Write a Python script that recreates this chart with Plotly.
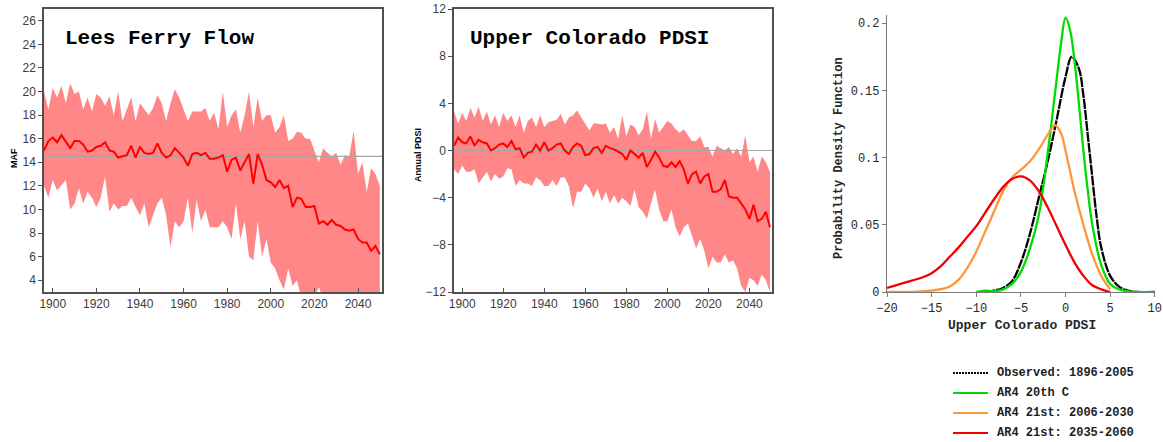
import plotly.graph_objects as go

W, H = 1163, 442

years = list(range(1896, 2051, 2))

flow_upper = [20.0, 18.5, 20.3, 19.5, 20.5, 19.0, 20.7, 19.8, 20.0, 18.5,
              19.5, 18.3, 19.8, 19.5, 18.8, 19.6, 18.0, 20.0, 17.5, 18.5,
              19.5, 17.5, 19.0, 18.5, 18.0, 18.6, 19.7, 19.0, 17.5, 19.0,
              20.2, 19.5, 18.5, 17.5, 18.3, 18.3, 18.3, 18.6, 17.5, 18.2,
              16.8, 20.0, 17.0, 18.0, 18.5, 16.5, 18.0, 20.0, 17.0, 19.5,
              17.5, 18.0, 18.0, 16.5, 17.0, 18.0, 15.8, 16.0, 16.6, 16.5,
              16.0, 16.0, 15.0, 14.0, 15.2, 14.8, 14.5, 14.8, 13.8, 14.6,
              14.5, 16.7, 13.0, 14.0, 11.5, 13.5, 13.0, 12.0]
flow_lower = [12.0, 11.0, 12.5, 11.6, 12.0, 12.5, 10.0, 10.5, 11.8, 10.5,
              11.5, 11.0, 10.2, 11.0, 12.8, 9.8, 10.5, 10.0, 10.3, 10.3,
              11.0, 10.2, 9.5, 10.5, 8.5, 9.5, 10.5, 11.0, 9.5, 6.8,
              9.0, 8.5, 9.0, 11.0, 8.0, 10.8, 9.0, 10.0, 8.5, 8.5,
              8.5, 9.0, 8.5, 7.5, 10.5, 7.5, 9.0, 6.0, 5.7, 9.0,
              6.0, 7.5, 5.5, 5.0, 4.0, 3.2, 5.0, 3.5, 4.0, 2.5,
              3.0, 2.5, 2.5, 3.4, 2.5, 2.0, 2.0, 2.0, 2.0, 2.0,
              2.0, 2.0, 2.0, 2.0, 2.0, 2.0, 2.0, 2.0]
flow_median = [15.0, 15.8, 16.1, 15.7, 16.3, 15.8, 15.2, 15.8, 15.8, 15.5,
               14.9, 15.0, 15.3, 15.4, 15.7, 15.0, 14.9, 14.4, 14.5, 14.6,
               15.4, 14.4, 15.3, 14.8, 14.7, 14.8, 15.6, 14.8, 14.4, 14.6,
               15.2, 14.8, 14.4, 13.7, 14.7, 14.8, 14.6, 14.8, 14.3, 14.3,
               14.4, 14.6, 13.2, 14.2, 14.4, 13.3, 14.0, 14.7, 12.2, 14.7,
               13.8, 12.5, 12.3, 11.9, 12.5, 11.8, 12.0, 10.2, 11.0, 10.9,
               10.2, 10.2, 10.3, 8.8, 9.0, 8.7, 9.1, 8.7, 8.6, 8.3,
               8.2, 8.3, 7.5, 7.2, 7.2, 6.5, 6.9, 6.2]
flow_ref = 14.5

pdsi_upper = [3.3, 2.3, 3.2, 2.5, 3.6, 2.8, 3.7, 2.5, 3.3, 2.2,
              3.0, 2.0, 3.2, 2.5, 3.0, 2.0, 3.0, 1.5, 2.5, 2.8,
              2.0, 3.0, 2.0, 2.4, 2.5, 2.6, 3.1, 2.2, 2.8, 3.0,
              3.4, 2.8, 2.2, 1.7, 2.3, 2.3, 2.2, 2.3, 1.5, 2.0,
              1.0, 3.0, 1.2, 2.2, 2.0, 1.3, 1.8, 3.3, 1.0, 2.7,
              1.5, 2.0, 2.5, 2.3, 1.8, 1.5, 1.8, 1.3, 0.8, 0.8,
              1.2, 0.3, 0.3, -0.5, 0.4, 0.2, 0.0, 0.3, -0.3, 0.2,
              -0.5, 1.3, -1.0, -0.5, -1.8, -0.5, -1.0, -1.8]
pdsi_lower = [-1.6, -2.0, -1.3, -1.8, -1.8, -1.6, -2.8, -2.3, -1.8, -2.6,
              -2.0, -2.4, -2.2, -1.5, -1.6, -3.0, -2.5, -2.8, -2.8, -3.0,
              -2.3, -2.5, -3.0, -3.0, -2.5, -3.0, -2.3, -2.3, -3.0, -4.9,
              -3.5, -3.5, -2.8, -3.2, -4.0, -3.2, -4.3, -3.5, -4.5, -3.8,
              -4.5, -4.0, -4.3, -4.7, -3.3, -4.8, -5.2, -5.8, -4.5, -3.3,
              -5.0, -6.0, -6.0, -5.0, -6.5, -7.3, -6.5, -6.2, -7.2, -8.3,
              -7.5, -8.5, -10.0, -9.0, -9.5, -9.5, -8.8, -9.5, -9.3, -10.0,
              -11.5, -12.0, -10.8, -11.0, -11.5, -10.5, -11.0, -12.0]
pdsi_median = [0.4, 1.1, 0.7, 0.6, 1.2, 0.4, 0.9, 0.7, 0.6, 0.0,
               0.2, 0.5, 0.6, 0.3, 0.8, 0.1, 0.2, -0.6, -0.2, -0.1,
               0.5, 0.0, 0.7, 0.0, 0.2, 0.5, 0.6, 0.0, -0.3, 0.3,
               0.6, 0.4, -0.4, -0.3, 0.2, 0.3, -0.2, 0.4, 0.2, 0.1,
               -0.1, -0.3, -0.8, 0.0, -0.3, -0.6, -0.2, -1.4, -0.8, -0.1,
               -0.6, -1.3, -1.4, -1.0, -1.4, -0.9, -1.6, -2.8, -2.0, -1.8,
               -2.8, -2.2, -2.0, -3.5, -3.5, -3.3, -2.5, -3.9, -4.0, -4.0,
               -4.5, -5.0, -5.8, -4.6, -6.0, -5.8, -5.2, -6.5]
pdsi_ref = 0

obs_x = [-9, -8, -7, -6, -5, -4, -3, -2, -1, 0, 0.7, 1.5, 2, 2.5, 3, 3.5, 4, 5, 6, 7, 8, 10]
obs_y = [0, 0.001, 0.003, 0.008, 0.022, 0.043, 0.07, 0.097, 0.128, 0.16, 0.175, 0.166,
         0.146, 0.116, 0.085, 0.055, 0.033, 0.012, 0.004, 0.001, 0, 0]
c20_x = [-10, -9, -8, -7, -6, -5, -4, -3, -2, -1, -0.5, 0, 0.5, 1, 1.5, 2, 2.5, 3, 4, 5, 6, 7, 8, 10]
c20_y = [0, 0.001, 0.0005, 0.002, 0.006, 0.015, 0.032, 0.057, 0.103, 0.158, 0.185, 0.204,
         0.195, 0.172, 0.14, 0.105, 0.075, 0.05, 0.02, 0.006, 0.002, 0.0005, 0, 0]
e21_x = [-20, -15, -13, -12, -11, -10, -9, -8, -7, -6, -5, -4, -3, -2, -1.2, -0.5, 0, 1, 2, 3, 4, 5]
e21_y = [0, 0.001, 0.004, 0.009, 0.018, 0.03, 0.045, 0.06, 0.075, 0.085, 0.091, 0.097,
         0.106, 0.117, 0.124, 0.118, 0.105, 0.075, 0.05, 0.028, 0.012, 0.002]
l21_x = [-20, -18, -16, -15, -14, -13, -12, -11, -10, -9, -8, -7, -6, -5, -4, -3, -2, -1, 0, 1, 2, 3, 4, 5]
l21_y = [0.003, 0.007, 0.011, 0.014, 0.019, 0.026, 0.033, 0.041, 0.049, 0.059, 0.069, 0.078,
         0.084, 0.086, 0.083, 0.075, 0.063, 0.049, 0.035, 0.022, 0.012, 0.005, 0.002, 0.0]

legend_names = ["Observed: 1896-2005", "AR4 20th C", "AR4 21st: 2006-2030", "AR4 21st: 2035-2060"]
legend_colors = ["black", "rgb(0,220,0)", "rgb(255,150,60)", "rgb(240,0,0)"]

band = "rgb(255,135,135)"
red = "rgb(255,0,0)"
grey = "rgb(165,165,165)"
axc = "rgb(80,80,80)"

fig = go.Figure()

def ts_panel(xa, ya, up, lo, med, ref):
    fig.add_trace(go.Scatter(x=years + years[::-1], y=up + lo[::-1], fill="toself",
                             fillcolor=band, line=dict(width=0), mode="lines",
                             showlegend=False, hoverinfo="skip", xaxis=xa, yaxis=ya))
    fig.add_trace(go.Scatter(x=[1890, 2060], y=[ref, ref], mode="lines",
                             line=dict(color=grey, width=1.2), showlegend=False,
                             xaxis=xa, yaxis=ya))
    fig.add_trace(go.Scatter(x=years, y=med, mode="lines", line=dict(color=red, width=2),
                             showlegend=False, xaxis=xa, yaxis=ya))

ts_panel("x", "y", flow_upper, flow_lower, flow_median, flow_ref)
ts_panel("x2", "y2", pdsi_upper, pdsi_lower, pdsi_median, pdsi_ref)

pdf_x = [obs_x, c20_x, e21_x, l21_x]
pdf_y = [obs_y, c20_y, e21_y, l21_y]
pdf_dash = ["10px,1px", "solid", "solid", "solid"]
for xs, ys, col, name, dash in zip(pdf_x, pdf_y, legend_colors, legend_names, pdf_dash):
    fig.add_trace(go.Scatter(x=xs, y=ys, mode="lines", name=name, showlegend=False,
                             line=dict(color=col, width=2.3, shape="spline", dash=dash),
                             xaxis="x3", yaxis="y3"))

def px(v):
    return v / W

def py(v):
    return 1 - v / H

tickfont = dict(family="Liberation Sans, Arial", size=12, color="rgb(60,60,60)")
monofont = dict(family="Liberation Mono, Courier New", size=12, color="rgb(40,40,40)")

yframe = dict(showline=True, mirror=True, linecolor=axc, linewidth=1.5, ticks="outside",
              ticklen=4, tickcolor=axc, showgrid=False, zeroline=False, tickfont=tickfont,
              automargin=False)
xframe = dict(showline=True, mirror=True, linecolor=axc, linewidth=1.5, ticks="inside",
              ticklen=4, tickcolor=axc, showgrid=False, zeroline=False, tickfont=tickfont,
              automargin=False)
pdfax = dict(showline=True, linecolor="rgb(120,120,120)", linewidth=1.2, ticks="outside",
             ticklen=4, tickcolor="rgb(120,120,120)", showgrid=False, zeroline=False,
             tickfont=monofont, automargin=False, ticklabeloverflow="allow")

fig.update_layout(
    width=W, height=H, margin=dict(l=0, r=0, t=0, b=0, autoexpand=False),
    paper_bgcolor="white", plot_bgcolor="white", showlegend=False,
    xaxis=dict(domain=[px(44), px(382)], range=[1896, 2051], tickvals=list(range(1900, 2041, 20)), **xframe),
    yaxis=dict(domain=[py(292), py(9)], range=[3, 27], tickvals=list(range(4, 27, 2)), **yframe),
    xaxis2=dict(domain=[px(454), px(772)], range=[1896, 2051], tickvals=list(range(1900, 2041, 20)),
                anchor="y2", **xframe),
    yaxis2=dict(domain=[py(292), py(9)], range=[-12, 12], tickvals=[-12, -8, -4, 0, 4, 8, 12],
                anchor="x2", **yframe),
    xaxis3=dict(domain=[px(887), px(1155)], range=[-20, 10.02], tickvals=[-20, -15, -10, -5, 0, 5, 10],
                anchor="y3", **pdfax),
    yaxis3=dict(domain=[py(292), py(15)], range=[0, 0.206], tickvals=[0, 0.05, 0.1, 0.15, 0.2],
                ticktext=["0", "0.05", "0.1", "0.15", "0.2"], anchor="x3", **pdfax),
)

ann = [
    dict(text="<b>Lees Ferry Flow</b>", x=px(63), y=py(38), xanchor="left", yanchor="middle",
         font=dict(family="Liberation Mono, Courier New", size=21, color="black")),
    dict(text="<b>Upper Colorado PDSI</b>", x=px(468), y=py(38), xanchor="left", yanchor="middle",
         font=dict(family="Liberation Mono, Courier New", size=21, color="black")),
    dict(text="<b>MAF</b>", x=px(14), y=py(158), textangle=-90, xanchor="center", yanchor="middle",
         font=dict(family="Liberation Sans, Arial", size=9, color="black")),
    dict(text="<b>Annual PDSI</b>", x=px(418), y=py(155), textangle=-90, xanchor="center", yanchor="middle",
         font=dict(family="Liberation Sans, Arial", size=9, color="black")),
    dict(text="<b>Probability Density Function</b>", x=px(839), y=py(158), textangle=-90,
         xanchor="center", yanchor="middle",
         font=dict(family="Liberation Mono, Courier New", size=12, color="rgb(40,40,40)")),
    dict(text="<b>Upper Colorado PDSI</b>", x=px(1022), y=py(325), xanchor="center", yanchor="middle",
         font=dict(family="Liberation Mono, Courier New", size=13, color="rgb(40,40,40)")),
]
shapes = []
leg_dash = ["2px,1px", "solid", "solid", "solid"]
for i, (name, col) in enumerate(zip(legend_names, legend_colors)):
    yy = py(373 + 20 * i)
    shapes.append(dict(type="line", xref="paper", yref="paper", x0=px(953), x1=px(988), y0=yy, y1=yy,
                       line=dict(color=col, width=2, dash=leg_dash[i])))
    ann.append(dict(text="<b>" + name + "</b>", x=px(995), y=yy, xanchor="left", yanchor="middle",
                    font=dict(family="Liberation Mono, Courier New", size=12, color="rgb(30,30,30)")))
for a in ann:
    a.update(xref="paper", yref="paper", showarrow=False)
fig.update_layout(annotations=ann, shapes=shapes)

fig.write_html("out.html", config={"displayModeBar": False},
               post_script="document.body.style.margin='0';document.body.style.overflow='hidden';")
